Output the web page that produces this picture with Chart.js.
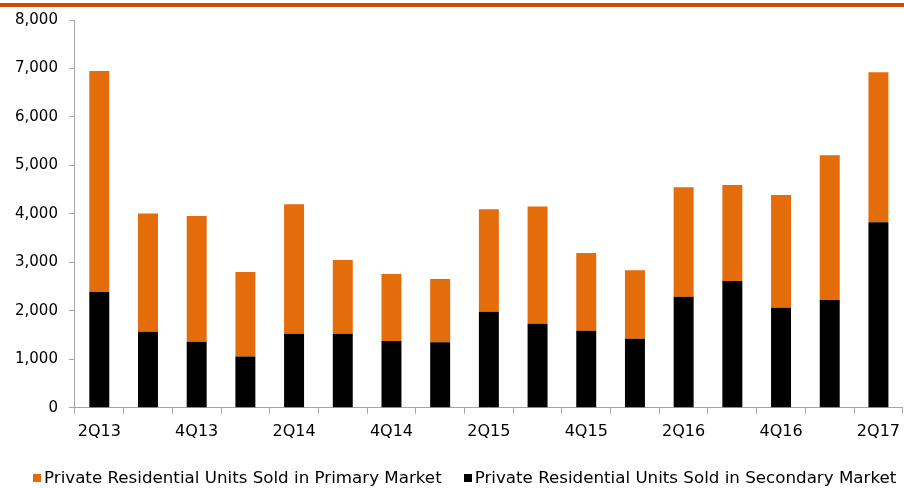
<!DOCTYPE html>
<html>
<head>
<meta charset="utf-8">
<script src="https://cdn.jsdelivr.net/npm/chart.js@4.4.1/dist/chart.umd.min.js"></script>
<style>
  html, body { margin: 0; padding: 0; background: #fff; }
  #wrap { position: relative; width: 904px; height: 488px; overflow: hidden; }
  #topline { position: absolute; left: 0; top: 3px; width: 904px; height: 4px; background: #d04a02; }
  #box { position: absolute; left: 0; top: 0; width: 908px; height: 488px; }
  #legend { position: absolute; left: 33px; top: 466px; white-space: nowrap;
            font-family: "DejaVu Sans", sans-serif; font-size: 16.7px; line-height: 22px; color: #000; }
  #legend span.item { display: inline-block; margin-right: 22px; }
  #legend span.sq { display: inline-block; width: 8px; height: 8px; margin-right: 3px; vertical-align: 1px; }
</style>
</head>
<body>
<div id="wrap">
  <div id="box"><canvas id="myBarChart"></canvas></div>
  <div id="topline"></div>
  <div id="legend"></div>
</div>
<script>
var quarters = ['2Q13','3Q13','4Q13','1Q14','2Q14','3Q14','4Q14','1Q15','2Q15','3Q15','4Q15','1Q16','2Q16','3Q16','4Q16','1Q17','2Q17']
var primarySold = [4560, 2440, 2595, 1740, 2670, 1520, 1380, 1305, 2115, 2420, 1605, 1415, 2260, 1980, 2325, 2985, 3090]
var secondarySold = [2390, 1570, 1360, 1060, 1530, 1530, 1380, 1350, 1980, 1735, 1590, 1425, 2290, 2615, 2065, 2225, 3830]
var yTicks = [0, 1000, 2000, 3000, 4000, 5000, 6000, 7000, 8000]

var family = '"DejaVu Sans", sans-serif'

var ctx = document.getElementById('myBarChart').getContext('2d');
var myBarChart = new Chart(ctx, {
    type: 'bar',
    data: {
        labels: quarters,
        datasets: [{
            label: 'Private Residential Units Sold in Secondary Market',
            data: secondarySold,
            backgroundColor: '#000000',
            barPercentage: 0.82,
            categoryPercentage: 0.5
        }, {
            label: 'Private Residential Units Sold in Primary Market',
            data: primarySold,
            backgroundColor: '#e46c0a',
            barPercentage: 0.82,
            categoryPercentage: 0.5
        }]
    },
    options: {
        responsive: true,
        maintainAspectRatio: false,
        animation: false,
        layout: { padding: { top: 15, left: 4, right: 0, bottom: 39 } },
        plugins: {
            tooltip: { enabled: false },
            legend: { display: false }
        },
        scales: {
            x: {
                stacked: true,
                border: { color: '#a6a6a6', width: 1 },
                grid: { drawOnChartArea: false, color: '#a6a6a6', tickLength: 6 },
                ticks: {
                    color: '#000',
                    font: { family: family, size: 16 },
                    maxRotation: 0,
                    autoSkip: false,
                    padding: 8,
                    callback: function(value, index) {
                        return index % 2 === 0 ? quarters[index] : ''
                    }
                }
            },
            y: {
                stacked: true,
                min: 0,
                max: 8000,
                border: { color: '#a6a6a6', width: 1 },
                grid: { drawOnChartArea: false, color: '#a6a6a6', tickLength: 6 },
                afterBuildTicks: function(axis) {
                    axis.ticks = yTicks.map(function(v) { return { value: v } })
                },
                ticks: {
                    color: '#000',
                    font: { family: family, size: 15 },
                    padding: 11,
                    callback: function(value) { return value.toLocaleString('en-US') }
                }
            }
        }
    }
});

// Legend in one row, primary first (top of the stack)
var legendHtml = ''
myBarChart.data.datasets.slice().reverse().forEach(function(ds) {
    legendHtml += '<span class="item"><span class="sq" style="background:' + ds.backgroundColor + '"></span>' + ds.label + '</span>'
})
document.getElementById('legend').innerHTML = legendHtml
</script>
</body>
</html>
